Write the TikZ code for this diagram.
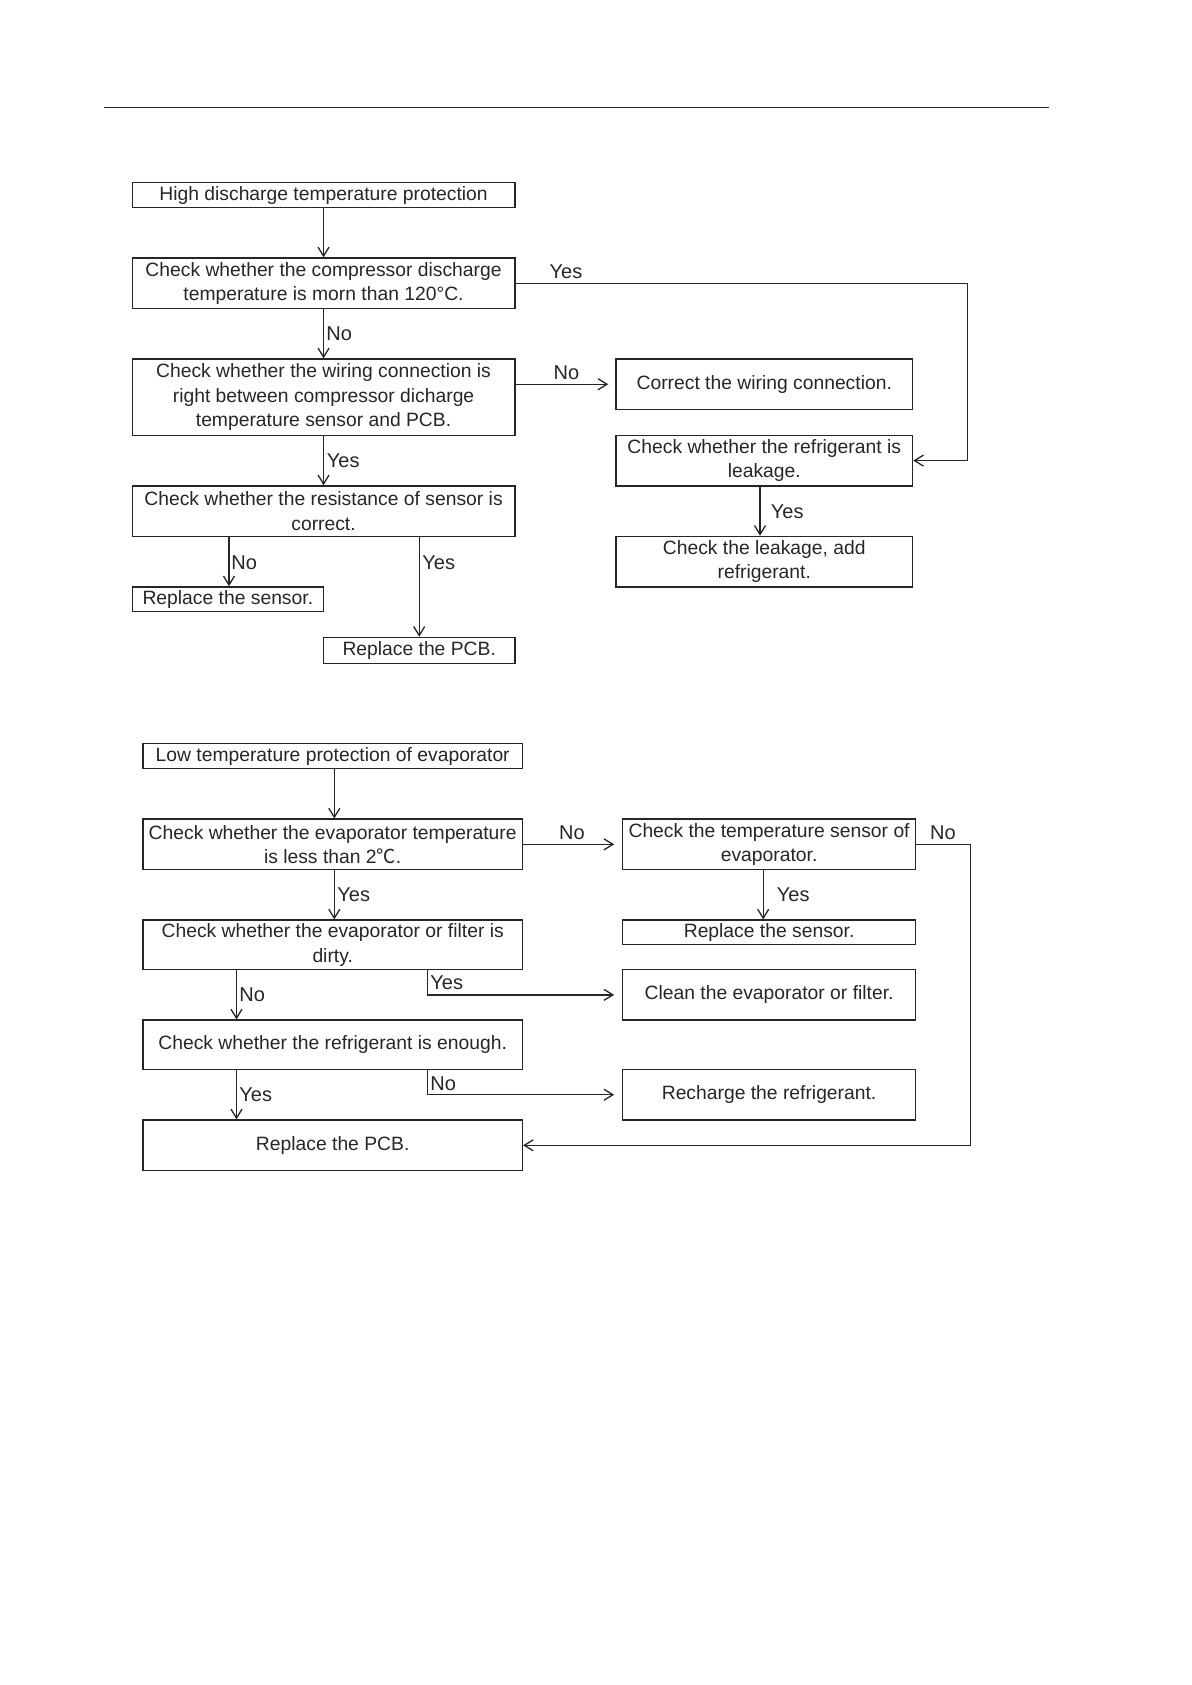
\documentclass[tikz,border=0pt]{standalone}
\usepackage{fontspec}
\setmainfont{Liberation Sans}
\newfontfamily\cjkfont{Noto Sans CJK SC}
\usetikzlibrary{arrows.meta}
\definecolor{ink}{gray}{0.15}
\tikzset{
  box/.style={draw=ink, line width=0.65pt, inner sep=0pt, align=center, text=ink,
    font=\fontsize{9.65}{12.2}\selectfont},
  arr/.style={draw=ink, line width=0.65pt, -{Straight Barb[length=4.5pt,width=5.5pt]}},
  lbl/.style={inner sep=0pt, text=ink, font=\fontsize{10}{12}\selectfont},
}
\begin{document}
\begin{tikzpicture}[x=0.5pt,y=-0.5pt]
\useasboundingbox (0,0) rectangle (1192,1685);
\draw[ink, line width=0.7pt] (104,107.5) -- (1049,107.5);

% ---------- chart 1 ----------
\node[box, minimum width=191.35pt, minimum height=12.4pt] (b1) at (323.55,195.1) {High discharge temperature protection};
\node[box, minimum width=191.35pt, minimum height=25.25pt] (b2) at (323.55,283.25) {Check whether the compressor discharge\\temperature is morn than 120°C.};
\node[box, minimum width=191.35pt, minimum height=38.15pt] (b3) at (323.55,397.15) {Check whether the wiring connection is\\right between compressor dicharge\\temperature sensor and PCB.};
\node[box, minimum width=191.35pt, minimum height=25.25pt] (b4) at (323.55,511.15) {Check whether the resistance of sensor is\\correct.};
\node[box, minimum width=95.65pt, minimum height=12.35pt] (b5) at (227.85,599.25) {Replace the sensor.};
\node[box, minimum width=95.7pt, minimum height=12.9pt] (b6) at (419.2,650.3) {Replace the PCB.};
\node[box, minimum width=148.35pt, minimum height=25.25pt] (r1) at (764.25,384.25) {Correct the wiring connection.};
\node[box, minimum width=148.35pt, minimum height=25.3pt] (r2) at (764.25,460.6) {Check whether the refrigerant is\\leakage.};
\node[box, minimum width=148.35pt, minimum height=25.25pt] (r3) at (764.25,561.65) {Check the leakage, add\\refrigerant.};

\draw[arr] (b1) -- (b2);
\draw[arr] (b2) -- (b3);
\draw[arr] (b3) -- (b4);
\draw[arr] (b4.south -| 229,0) -- (b5.north -| 229,0);
\draw[arr] (b4.south -| b6.north) -- (b6.north);
\draw[arr] (b2.east) -- (967.4,0 |- b2.east) |- (r2.east);
\draw[arr] (b3.east |- r1.west) -- ([xshift=-3.5pt]r1.west);
\draw[arr] (r2.south -| 760,0) -- (r3.north -| 760,0);

\node[lbl] (l1) at (566,272) {Yes};
\node[lbl, anchor=west] (l2) at (326,334) {No};
\node[lbl] (l3) at (566.5,372.7) {No};
\node[lbl, anchor=west] (l4) at (326.5,461) {Yes};
\node[lbl, anchor=west] (l5) at (770.5,511.7) {Yes};
\node[lbl, anchor=west] (l6) at (231,562.3) {No};
\node[lbl, anchor=west] (l7) at (422,562.3) {Yes};

% ---------- chart 2 ----------
\node[box, minimum width=189.7pt, minimum height=12.4pt] (A) at (332.7,756.2) {Low temperature protection of evaporator};
\node[box, minimum width=189.7pt, minimum height=25.25pt] (B) at (332.7,844.35) {Check whether the evaporator temperature\\is less than 2{\cjkfont ℃}.};
\node[box, minimum width=146.7pt, minimum height=25.25pt] (C) at (769.1,844.35) {Check the temperature sensor of\\evaporator.};
\node[box, minimum width=146.7pt, minimum height=12.35pt] (D) at (769.1,932.45) {Replace the sensor.};
\node[box, minimum width=189.7pt, minimum height=24.75pt] (E) at (332.7,944.85) {Check whether the evaporator or filter is\\dirty.};
\node[box, minimum width=146.7pt, minimum height=25.25pt] (F) at (769.1,994.85) {Clean the evaporator or filter.};
\node[box, minimum width=189.7pt, minimum height=24.7pt] (G) at (332.7,1044.8) {Check whether the refrigerant is enough.};
\node[box, minimum width=146.7pt, minimum height=25.25pt] (H) at (769.1,1094.75) {Recharge the refrigerant.};
\node[box, minimum width=189.7pt, minimum height=25.3pt] (I) at (332.7,1145.3) {Replace the PCB.};

\draw[arr] (A.south -| 334.3,0) -- (B.north -| 334.3,0);
\draw[arr] (B.south -| 334.3,0) -- (E.north -| 334.3,0);
\draw[arr] (B.east) -- ([xshift=-3.8pt]C.west);
\draw[arr] (C.south -| 763.2,0) -- (D.north -| 763.2,0);
\draw[arr] (C.east) -- (970.6,0 |- C.east) |- (I.east);
\draw[arr] (E.south -| 427.8,0) |- ([xshift=-3.8pt]F.west);
\draw[arr] (E.south -| 236.5,0) -- (G.north -| 236.5,0);
\draw[arr] (G.south -| 427.8,0) |- ([xshift=-3.8pt]H.west);
\draw[arr] (G.south -| 236.5,0) -- (I.north -| 236.5,0);

\node[lbl] (m1) at (572,833) {No};
\node[lbl] (m2) at (943,833) {No};
\node[lbl, anchor=west] (m3) at (337,895) {Yes};
\node[lbl, anchor=west] (m4) at (776.5,895) {Yes};
\node[lbl, anchor=west] (m5) at (430,982.5) {Yes};
\node[lbl, anchor=west] (m6) at (239,995) {No};
\node[lbl, anchor=west] (m7) at (430,1083.5) {No};
\node[lbl, anchor=west] (m8) at (239,1095) {Yes};
\end{tikzpicture}
\end{document}
